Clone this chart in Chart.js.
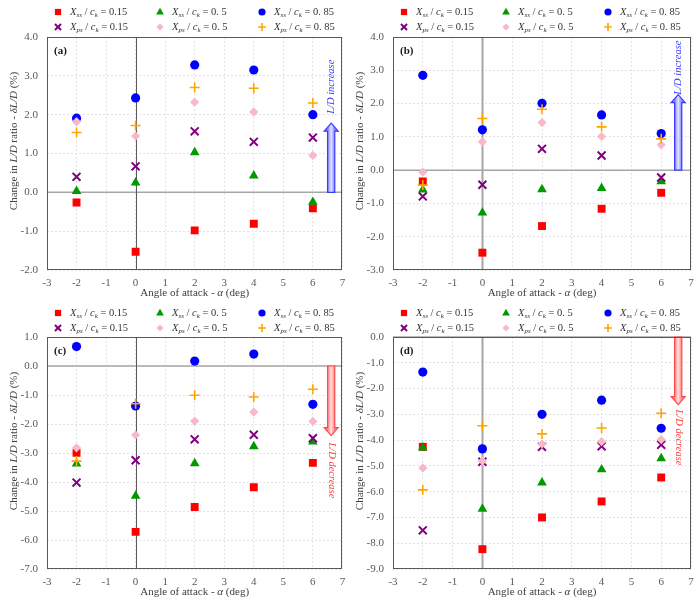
<!DOCTYPE html>
<html>
<head>
<meta charset="utf-8">
<title>Change in L/D ratio vs angle of attack</title>
<script src="https://cdn.jsdelivr.net/npm/chart.js@4/dist/chart.umd.min.js"></script>
<style>
  html, body { margin: 0; padding: 0; background: #fff; }
  .wrap { position: relative; width: 700px; height: 602px; }
  .panel { position: absolute; width: 350px; height: 301px; }
</style>
</head>
<body>
<div class="wrap">
  <div class="panel" style="left:0;top:0"><canvas id="chartA" width="350" height="301"></canvas></div>
  <div class="panel" style="left:350px;top:0"><canvas id="chartB" width="350" height="301"></canvas></div>
  <div class="panel" style="left:0;top:301px"><canvas id="chartC" width="350" height="301"></canvas></div>
  <div class="panel" style="left:350px;top:301px"><canvas id="chartD" width="350" height="301"></canvas></div>
</div>
<script>
// angles of attack (deg)
const angles = [-2, 0, 2, 4, 6];

// legend entries: subscript + value
const legendSubs = ["ss", "ss", "ss", "ps", "ps", "ps"];
const legendVals = ["0.15", "0. 5", "0. 85", "0.15", "0. 5", "0. 85"];

// panel (a)
const a_ss015 = [-0.26, -1.53, -0.98, -0.81, -0.41];
const a_ss050 = [0.03, 0.25, 1.03, 0.43, -0.25];
const a_ss085 = [1.91, 2.43, 3.28, 3.15, 2.00];
const a_ps015 = [0.40, 0.67, 1.57, 1.30, 1.41];
const a_ps050 = [1.82, 1.45, 2.32, 2.07, 0.95];
const a_ps085 = [1.54, 1.72, 2.70, 2.68, 2.30];

// panel (b)
const b_ss015 = [-0.34, -2.48, -1.68, -1.16, -0.68];
const b_ss050 = [-0.59, -1.28, -0.58, -0.54, -0.34];
const b_ss085 = [2.85, 1.21, 2.01, 1.66, 1.10];
const b_ps015 = [-0.79, -0.44, 0.64, 0.44, -0.22];
const b_ps050 = [-0.06, 0.85, 1.43, 1.01, 0.76];
const b_ps085 = [-0.45, 1.55, 1.83, 1.30, 0.94];

// panel (c)
const c_ss015 = [-2.99, -5.72, -4.86, -4.18, -3.34];
const c_ss050 = [-3.37, -4.48, -3.36, -2.77, -2.61];
const c_ss085 = [0.67, -1.38, 0.17, 0.41, -1.32];
const c_ps015 = [-4.02, -3.25, -2.53, -2.37, -2.49];
const c_ps050 = [-2.82, -2.38, -1.90, -1.59, -1.91];
const c_ps085 = [-3.28, -1.30, -1.01, -1.07, -0.80];

// panel (d)
const d_ss015 = [-4.26, -8.23, -7.00, -6.38, -5.45];
const d_ss050 = [-4.29, -6.67, -5.65, -5.14, -4.71];
const d_ss085 = [-1.36, -4.34, -3.00, -2.45, -3.54];
const d_ps015 = [-7.50, -4.84, -4.26, -4.24, -4.18];
const d_ps050 = [-5.08, -4.81, -4.15, -4.06, -3.98];
const d_ps085 = [-5.93, -3.44, -3.76, -3.53, -2.96];

const SERIF = "'Liberation Serif', 'DejaVu Serif', serif";

const markerStyles = [
  { style: "rect", color: "#ff0000", radius: 5.6, bw: 0 },
  { style: "triangle", color: "#009a00", radius: 5.6, bw: 0 },
  { style: "circle", color: "#0000ff", radius: 4.6, bw: 0 },
  { style: "crossRot", color: "#800080", radius: 5.6, bw: 2 },
  { style: "rectRot", color: "#f8b8c8", radius: 4.6, bw: 0 },
  { style: "cross", color: "#ffa500", radius: 5, bw: 1.6 },
];

function drawMarker(ctx, style, color, x, y, k) {
  ctx.save();
  ctx.fillStyle = color;
  ctx.strokeStyle = color;
  ctx.beginPath();
  if (style === "rect") {
    ctx.fillRect(x - 4 * k, y - 4 * k, 8 * k, 8 * k);
  } else if (style === "triangle") {
    ctx.moveTo(x, y - 5.5 * k);
    ctx.lineTo(x + 5 * k, y + 3.3 * k);
    ctx.lineTo(x - 5 * k, y + 3.3 * k);
    ctx.closePath();
    ctx.fill();
  } else if (style === "circle") {
    ctx.arc(x, y, 4.6 * k, 0, Math.PI * 2);
    ctx.fill();
  } else if (style === "crossRot") {
    ctx.lineWidth = 2;
    const s = 3.9 * k;
    ctx.moveTo(x - s, y - s); ctx.lineTo(x + s, y + s);
    ctx.moveTo(x + s, y - s); ctx.lineTo(x - s, y + s);
    ctx.stroke();
  } else if (style === "rectRot") {
    const s = 4.6 * k;
    ctx.moveTo(x, y - s); ctx.lineTo(x + s, y); ctx.lineTo(x, y + s); ctx.lineTo(x - s, y);
    ctx.closePath();
    ctx.fill();
  } else if (style === "cross") {
    ctx.lineWidth = 1.6;
    const s = 5 * k;
    ctx.moveTo(x - s, y); ctx.lineTo(x + s, y);
    ctx.moveTo(x, y - s); ctx.lineTo(x, y + s);
    ctx.stroke();
  }
  ctx.restore();
}

// rich text: segments of [text, kind] where kind is n / i / sub / b
function segFont(kind, size) {
  if (kind === "i") return "italic " + size + "px " + SERIF;
  if (kind === "sub") return "italic " + Math.round(size * 0.7) + "px " + SERIF;
  if (kind === "b") return "bold " + size + "px " + SERIF;
  return size + "px " + SERIF;
}

function richWidth(ctx, segs, size) {
  let w = 0;
  segs.forEach(([t, kind]) => { ctx.font = segFont(kind, size); w += ctx.measureText(t).width; });
  return w;
}

function drawRich(ctx, segs, x, y, size, align) {
  let cx = x;
  if (align === "center") cx = x - richWidth(ctx, segs, size) / 2;
  ctx.textAlign = "left";
  ctx.textBaseline = "middle";
  segs.forEach(([t, kind]) => {
    ctx.font = segFont(kind, size);
    ctx.fillText(t, cx, kind === "sub" ? y + size * 0.3 : y);
    cx += ctx.measureText(t).width;
  });
}

function drawArrow(ctx, xp, yStart, yTip, fillEdge, fillMid, stroke) {
  const sw = 3.6, hw = 7, hl = 8;
  const dir = yTip < yStart ? -1 : 1;
  const yBase = yTip - dir * hl;
  const grad = ctx.createLinearGradient(xp - sw, 0, xp + sw, 0);
  grad.addColorStop(0, fillEdge);
  grad.addColorStop(0.5, fillMid);
  grad.addColorStop(1, fillEdge);
  ctx.beginPath();
  ctx.moveTo(xp - sw, yStart);
  ctx.lineTo(xp - sw, yBase);
  ctx.lineTo(xp - hw, yBase);
  ctx.lineTo(xp, yTip);
  ctx.lineTo(xp + hw, yBase);
  ctx.lineTo(xp + sw, yBase);
  ctx.lineTo(xp + sw, yStart);
  ctx.closePath();
  ctx.fillStyle = grad;
  ctx.fill();
  ctx.lineWidth = 1.2;
  ctx.strokeStyle = stroke;
  ctx.stroke();
}

const panelDecor = {
  id: "panelDecor",
  beforeDatasetsDraw(chart, args, opts) {
    const { ctx, chartArea: ca, scales: { x, y } } = chart;
    ctx.save();
    const y0 = y.getPixelForValue(0);
    ctx.strokeStyle = "#a6a6a6";
    ctx.lineWidth = 1.5;
    ctx.beginPath(); ctx.moveTo(ca.left, y0); ctx.lineTo(ca.right, y0); ctx.stroke();
    const x0 = Math.round(x.getPixelForValue(0)) + 0.5;
    ctx.strokeStyle = opts.zeroXColor;
    ctx.lineWidth = opts.zeroXWidth;
    ctx.beginPath(); ctx.moveTo(x0, ca.top); ctx.lineTo(x0, ca.bottom); ctx.stroke();

    // L/D increase / decrease arrow
    const ar = opts.arrow;
    const ax = x.getPixelForValue(ar.x);
    const ys = y.getPixelForValue(0);
    const yt = y.getPixelForValue(ar.tip);
    if (ar.up) drawArrow(ctx, ax, ys, yt, "#8080ff", "#e4e4ff", "#3a3aff");
    else drawArrow(ctx, ax, ys, yt, "#ff8080", "#ffe0e0", "#ff4a4a");
    ctx.translate(ax + 0.5, y.getPixelForValue(ar.labelAt));
    ctx.rotate(ar.up ? -Math.PI / 2 : Math.PI / 2);
    ctx.fillStyle = ar.up ? "#3a3aff" : "#ff4040";
    drawRich(ctx, [["L/D " + (ar.up ? "increase" : "decrease"), "i"]], 0, 0, 10.5, "center");
    ctx.restore();
  },
  afterDraw(chart, args, opts) {
    const { ctx, chartArea: ca } = chart;
    ctx.save();
    // frame
    ctx.strokeStyle = "#595959";
    ctx.lineWidth = 1;
    ctx.strokeRect(Math.round(ca.left) + 0.5, Math.round(ca.top) + 0.5,
      Math.round(ca.right - ca.left) - 1, Math.round(ca.bottom - ca.top) - 1);

    // panel label
    ctx.fillStyle = "#1a1a1a";
    drawRich(ctx, [[opts.label, "b"]], ca.left + 7, ca.top + 14, 11, "left");

    // legend (two rows, three columns)
    markerStyles.forEach((m, i) => {
      const col = i % 3, row = Math.floor(i / 3);
      const mx = ca.left + 11 + col * 102;
      const my = 12 + row * 15;
      drawMarker(ctx, m.style, m.color, mx, my, 0.78);
      ctx.fillStyle = "#333";
      drawRich(ctx, [["X", "i"], [legendSubs[i], "sub"], [" / ", "n"], ["c", "i"], ["k", "sub"],
        [" = " + legendVals[i], "n"]], mx + 12, my, 10.5, "left");
    });

    // axis titles
    ctx.fillStyle = "#404040";
    drawRich(ctx, [["Angle of attack - ", "n"], ["α", "i"], [" (deg)", "n"]],
      (ca.left + ca.right) / 2, ca.bottom + 23, 11, "center");
    ctx.translate(ca.left - 33, ca.top + 104);
    ctx.rotate(-Math.PI / 2);
    drawRich(ctx, [["Change in ", "n"], ["L/D", "i"], [" ratio - ", "n"], ["δL/D", "i"], [" (%)", "n"]],
      0, 0, 11, "center");
    ctx.restore();
  }
};

function makePanel(id, seriesList, yMin, yMax, box, decor) {
  const datasets = seriesList.map((vals, i) => {
    const m = markerStyles[i];
    return {
      data: angles.map((a, j) => ({ x: a, y: vals[j] })),
      pointStyle: m.style,
      pointRadius: m.radius,
      pointBackgroundColor: m.color,
      pointBorderColor: m.color,
      pointBorderWidth: m.bw,
      showLine: false,
      order: 5 - i,
    };
  });
  const tickFont = { family: SERIF, size: 11 };
  return new Chart(document.getElementById(id), {
    type: "scatter",
    data: { datasets },
    options: {
      responsive: false,
      animation: false,
      layout: { padding: { left: 0, right: box.right, top: box.top, bottom: 0 } },
      plugins: {
        legend: { display: false },
        tooltip: { enabled: false },
        panelDecor: decor,
      },
      scales: {
        x: {
          type: "linear", min: -3, max: 7,
          ticks: { stepSize: 1, color: "#595959", font: tickFont, padding: 7, callback: v => String(v) },
          grid: { color: "#e3e3e3", drawTicks: false },
          border: { display: false, dash: [2, 2] },
          afterFit: s => { s.height = box.xh; s.paddingLeft = 0; s.paddingRight = 0; },
        },
        y: {
          type: "linear", min: yMin, max: yMax,
          ticks: { stepSize: 1, color: "#595959", font: tickFont, padding: 9, callback: v => v.toFixed(1) },
          grid: { color: "#e3e3e3", drawTicks: false },
          border: { display: false, dash: [2, 2] },
          afterFit: s => { s.width = box.left; s.paddingTop = 0; s.paddingBottom = 0; },
        },
      },
    },
    plugins: [panelDecor],
  });
}

makePanel("chartA", [a_ss015, a_ss050, a_ss085, a_ps015, a_ps050, a_ps085], -2, 4,
  { left: 47, right: 7, top: 37, xh: 31 },
  { label: "(a)", zeroXColor: "#595959", zeroXWidth: 1, arrow: { x: 6.62, tip: 1.78, labelAt: 2.72, up: true } });
makePanel("chartB", [b_ss015, b_ss050, b_ss085, b_ps015, b_ps050, b_ps085], -3, 4,
  { left: 43, right: 9, top: 37, xh: 31 },
  { label: "(b)", zeroXColor: "#a6a6a6", zeroXWidth: 2, arrow: { x: 6.57, tip: 2.27, labelAt: 3.08, up: true } });
makePanel("chartC", [c_ss015, c_ss050, c_ss085, c_ps015, c_ps050, c_ps085], -7, 1,
  { left: 47, right: 7, top: 36, xh: 33 },
  { label: "(c)", zeroXColor: "#595959", zeroXWidth: 1, arrow: { x: 6.62, tip: -2.4, labelAt: -3.6, up: false } });
makePanel("chartD", [d_ss015, d_ss050, d_ss085, d_ps015, d_ps050, d_ps085], -9, 0,
  { left: 43, right: 9, top: 36, xh: 33 },
  { label: "(d)", zeroXColor: "#a6a6a6", zeroXWidth: 2, arrow: { x: 6.57, tip: -2.62, labelAt: -3.9, up: false } });
</script>
</body>
</html>
